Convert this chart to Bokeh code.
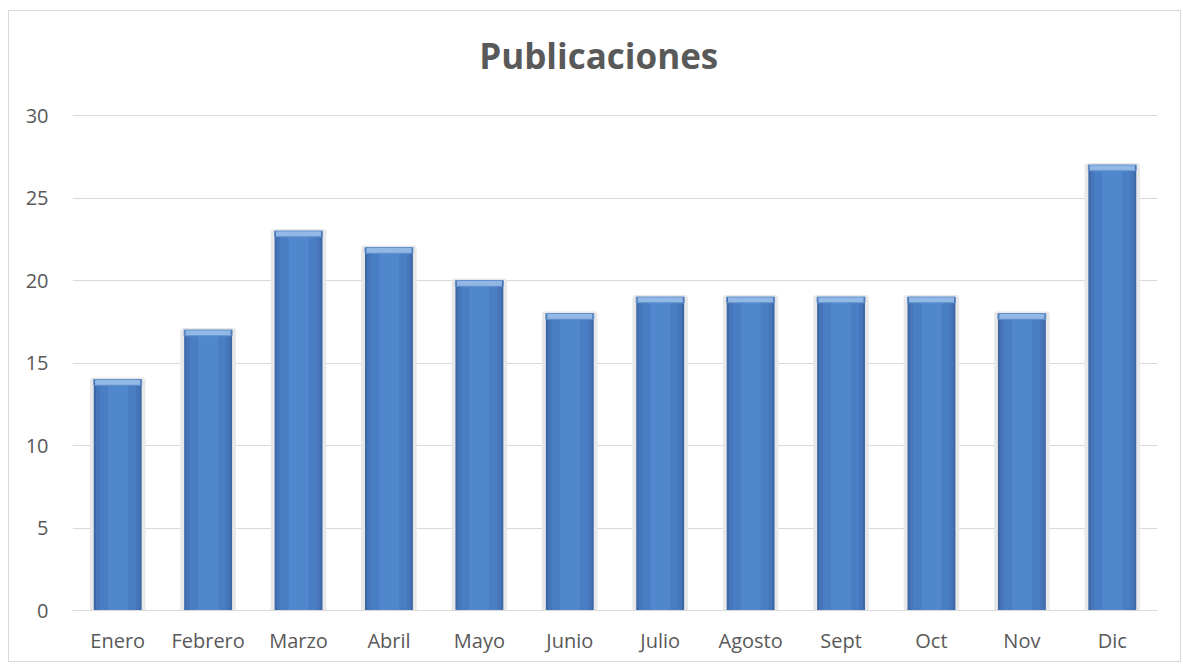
from bokeh.plotting import figure
from bokeh.models import Range1d, FactorRange, FixedTicker, Label
from bokeh.embed import file_html
from bokeh.resources import INLINE

title_text = "Publicaciones"
months = ["Enero", "Febrero", "Marzo", "Abril", "Mayo", "Junio", "Julio",
          "Agosto", "Sept", "Oct", "Nov", "Dic"]
values = [14, 17, 23, 22, 20, 18, 19, 19, 19, 19, 18, 27]
y_ticks = [0, 5, 10, 15, 20, 25, 30]
cap = [v - 0.35 for v in values]

# the range runs a little above 30 so the title can sit inside the frame
p = figure(width=1173, height=652, x_range=FactorRange(*months, range_padding=0),
           y_range=Range1d(0, 36), output_backend="svg", toolbar_location=None,
           min_border_left=63, min_border_right=25, min_border_top=5,
           min_border_bottom=53, title=None,
           styles={"margin-left": "8px", "margin-top": "10px",
                   "border": "1px solid #d9d9d9"})

p.outline_line_color = None
p.border_fill_color = "white"
p.background_fill_color = "white"

title = Label(x=5.82, y=33.64, x_units="data", y_units="data", text=title_text,
              text_align="center", text_baseline="middle", text_font="Open Sans",
              text_font_size="35px", text_font_style="bold", text_color="#595959")
p.add_layout(title)

# shadow
p.vbar(x=months, top=values, bottom=0, width=0.57, fill_color="#efefef",
       line_color="#e8e8e8", line_width=4)
# main bar with darker edges and lighter centre
p.vbar(x=months, top=values, bottom=0, width=0.53, fill_color="#3d69a9",
       line_color=None)
p.vbar(x=months, top=values, bottom=0, width=0.48, fill_color="#4676b9",
       line_color=None)
p.vbar(x=months, top=values, bottom=0, width=0.40, fill_color="#4a7ec4",
       line_color=None)
p.vbar(x=months, top=values, bottom=0, width=0.22, fill_color="#5087cd",
       line_color=None)
# top bevel highlight
p.vbar(x=months, top=values, bottom=cap, width=0.50, fill_color="#92b8e6",
       line_color=None)
p.vbar(x=months, top=values, bottom=cap, width=0.53, fill_color=None,
       line_color="#6390cc", line_width=1)

p.yaxis.ticker = FixedTicker(ticks=y_ticks)
p.ygrid.grid_line_color = "#d9d9d9"
p.ygrid.grid_line_width = 1
p.xgrid.grid_line_color = None

p.yaxis.axis_line_color = None
p.yaxis.major_tick_line_color = None
p.yaxis.minor_tick_line_color = None
p.yaxis.major_label_text_font = "Open Sans"
p.yaxis.major_label_text_font_size = "20px"
p.yaxis.major_label_text_color = "#595959"
p.yaxis.major_label_standoff = 18

p.xaxis.axis_line_color = "#d9d9d9"
p.xaxis.axis_line_width = 1
p.xaxis.major_tick_line_color = None
p.xaxis.minor_tick_line_color = None
p.xaxis.major_label_text_font = "Open Sans"
p.xaxis.major_label_text_font_size = "20px"
p.xaxis.major_label_text_color = "#595959"
p.xaxis.major_label_standoff = 10

open("out.html", "w").write(file_html(p, INLINE))
